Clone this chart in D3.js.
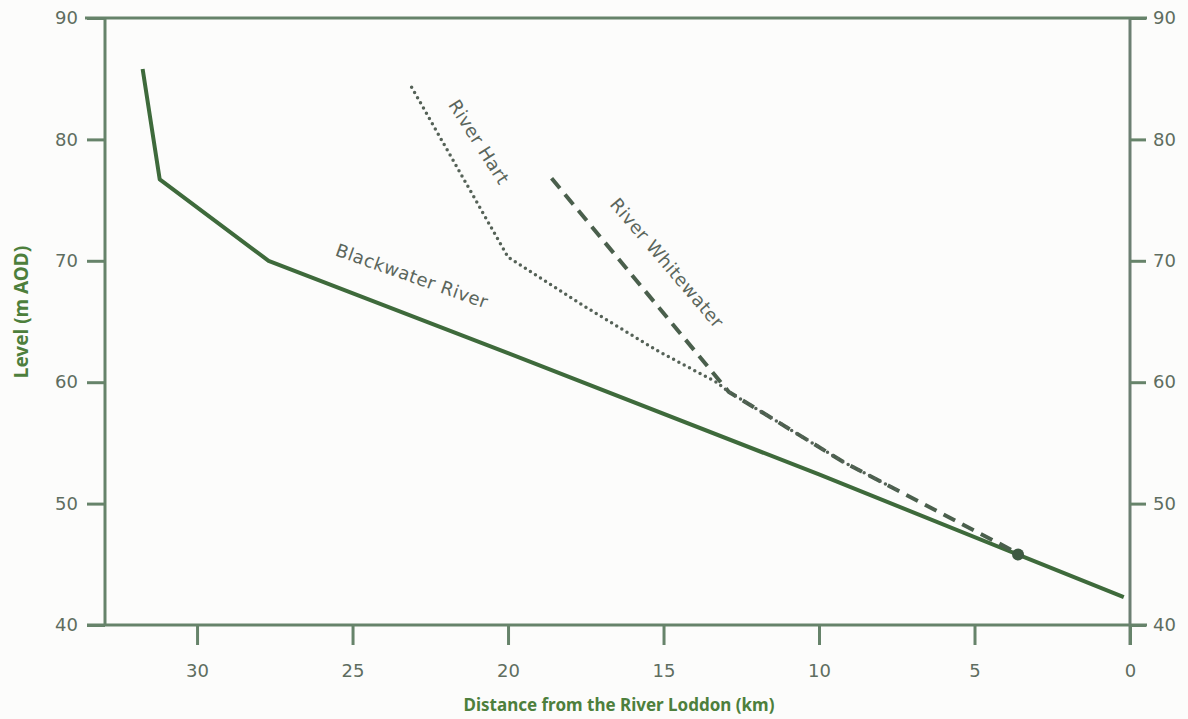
<!DOCTYPE html>
<head>
  <meta charset="utf-8">
  <script src="https://d3js.org/d3.v7.min.js"></script>
  <style>
    body { margin: 0; background: #fcfcfb; }
    .tick-label { fill: #5e6d60; font-size: 18px; font-family: 'DejaVu Sans', sans-serif; }
    .axis-title { fill: #4d7f3c; font-size: 17px; font-weight: bold; font-family: 'Noto Sans', sans-serif; }
    .river-label { fill: #5b665c; font-size: 18px; letter-spacing: 0.5px; font-family: 'DejaVu Sans', sans-serif; }
  </style>
</head>
<body>
<div id="chart"></div>
<script>
  var xTicks = [30, 25, 20, 15, 10, 5, 0];
  var yTicks = [40, 50, 60, 70, 80, 90];

  // [km from the Loddon, level m AOD]
  var blackwater = [[31.75, 85.8], [31.2, 76.7], [27.7, 70.0], [20, 62.4], [10, 52.4], [3.5, 45.7], [0.2, 42.3]];
  var hart = [[23.1, 84.3], [20, 70.3], [17.7, 66.5], [15.2, 62.6], [13.3, 60.0], [12.9, 59.2], [9.2, 53.4], [7.4, 51.0]];
  var whitewater = [[18.6, 76.8], [12.9, 59.2], [9.2, 53.4], [3.6, 45.9]];
  var junction = [3.6, 45.8];

  var w = 1188, h = 719;
  var mLeft = 105, mRight = 1130, mTop = 18, mBottom = 625;

  var x = d3.scaleLinear().domain([32.96, 0]).range([mLeft, mRight]);
  var y = d3.scaleLinear().domain([40, 90]).range([mBottom, mTop]);

  var svg = d3.select("#chart").append("svg")
    .attr("width", w).attr("height", h);

  var axisColor = "#66836a";

  // frame lines
  svg.append("line").attr("x1", 85).attr("x2", 1147).attr("y1", mTop).attr("y2", mTop)
    .attr("stroke", axisColor).attr("stroke-width", 3);
  svg.append("line").attr("x1", 87).attr("x2", 1147).attr("y1", mBottom).attr("y2", mBottom)
    .attr("stroke", axisColor).attr("stroke-width", 3);
  svg.append("line").attr("x1", mLeft).attr("x2", mLeft).attr("y1", mTop).attr("y2", mBottom)
    .attr("stroke", axisColor).attr("stroke-width", 3);
  svg.append("line").attr("x1", mRight).attr("x2", mRight).attr("y1", mTop).attr("y2", mBottom + 20)
    .attr("stroke", "#6c7f72").attr("stroke-width", 3);

  // left axis
  var yLeft = svg.append("g").attr("transform", "translate(" + mLeft + ",0)")
    .call(d3.axisLeft(y).tickValues(yTicks).tickSize(18).tickPadding(9));
  // right axis
  var yRight = svg.append("g").attr("transform", "translate(" + mRight + ",0)")
    .call(d3.axisRight(y).tickValues(yTicks).tickSize(16).tickPadding(7));
  // bottom axis
  var xBottom = svg.append("g").attr("transform", "translate(0," + mBottom + ")")
    .call(d3.axisBottom(x).tickValues(xTicks).tickSize(20).tickPadding(19));

  [yLeft, yRight, xBottom].forEach(function (g) {
    g.select(".domain").remove();
    g.selectAll(".tick line").attr("stroke", axisColor).attr("stroke-width", 3);
    g.selectAll(".tick text").attr("class", "tick-label").attr("fill", null);
  });

  // axis titles
  svg.append("text").attr("class", "axis-title")
    .style("font-size", "19px")
    .attr("transform", "translate(28," + 312 + ") rotate(-90)")
    .attr("text-anchor", "middle").text("Level (m AOD)");
  svg.append("text").attr("class", "axis-title")
    .attr("x", 619).attr("y", 711)
    .attr("text-anchor", "middle").text("Distance from the River Loddon (km)");

  var line = d3.line().x(function (d) { return x(d[0]); }).y(function (d) { return y(d[1]); });

  svg.append("path").datum(blackwater).attr("d", line)
    .attr("fill", "none").attr("stroke", "#3e6a3b").attr("stroke-width", 4)
    .attr("stroke-linejoin", "round");

  svg.append("path").datum(whitewater).attr("d", line)
    .attr("fill", "none").attr("stroke", "#4a5f4c").attr("stroke-width", 4)
    .attr("stroke-dasharray", "13,8");

  svg.append("path").datum(hart).attr("d", line)
    .attr("fill", "none").attr("stroke", "#556257").attr("stroke-width", 3.5)
    .attr("stroke-dasharray", "0,6").attr("stroke-linecap", "round");

  svg.append("circle").attr("cx", x(junction[0])).attr("cy", y(junction[1]))
    .attr("r", 6).attr("fill", "#3e5a42");

  // river labels
  svg.append("text").attr("class", "river-label")
    .attr("transform", "translate(412,276) rotate(19.5)")
    .attr("text-anchor", "middle").attr("dy", "0.35em").text("Blackwater River");
  svg.append("text").attr("class", "river-label")
    .attr("transform", "translate(479,142) rotate(57.5)")
    .attr("text-anchor", "middle").attr("dy", "0.35em").text("River Hart");
  svg.append("text").attr("class", "river-label")
    .attr("transform", "translate(667,263) rotate(49.5)")
    .attr("text-anchor", "middle").attr("dy", "0.35em").text("River Whitewater");
</script>
</body>
</html>
